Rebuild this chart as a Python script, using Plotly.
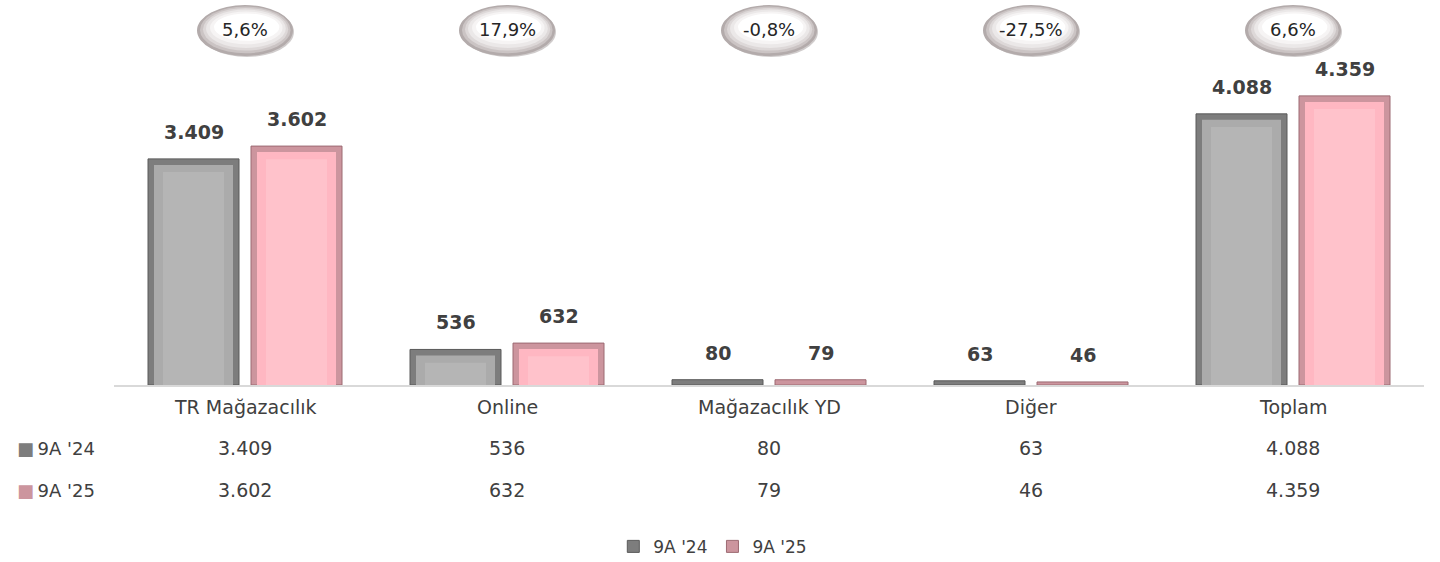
import plotly.graph_objects as go

categories = ["TR Mağazacılık", "Online", "Mağazacılık YD", "Diğer", "Toplam"]
series_names = ["9A '24", "9A '25"]
values_24 = [3409, 536, 80, 63, 4088]
values_25 = [3602, 632, 79, 46, 4359]
growth = ["5,6%", "17,9%", "-0,8%", "-27,5%", "6,6%"]

W, H = 1440, 562
ML, MR, MT, MB = 114, 16, 60, 177
PW, PH = W - ML - MR, H - MT - MB
YMAX = 4900
FONT = "DejaVu Sans"
TXT = "#404040"

def fmt(v):
    return f"{v:,}".replace(",", ".")

x = list(range(len(categories)))
cat_px = PW / len(categories)          # pixels per category
bar_w = 91 / cat_px                     # bar width in category units
half_gap = 6 / cat_px
inset_x = 6 / cat_px
inset_y = 6 * YMAX / PH

edge = {"9A '24": "#7d7d7d", "9A '25": "#cc959e"}
face = {"9A '24": "#ababab", "9A '25": "#ffb7c2"}
hilite = {"9A '24": "#c8c8c8", "9A '25": "#ffd6dc"}

fig = go.Figure()
for name, vals, sign in [(series_names[0], values_24, -1), (series_names[1], values_25, 1)]:
    off = -half_gap - bar_w if sign < 0 else half_gap
    fig.add_trace(go.Bar(
        x=x, y=vals, name=name, width=bar_w, offset=off,
        marker=dict(color=edge[name], line=dict(color="#5a5a5a" if sign < 0 else "#9c6a72", width=1)),
        showlegend=True, hoverinfo="skip",
    ))
    inner = [max(v - inset_y, 0) for v in vals]
    fig.add_trace(go.Bar(
        x=x, y=inner, width=bar_w - 2 * inset_x, offset=off + inset_x,
        marker=dict(color=face[name], line=dict(width=0)),
        showlegend=False, hoverinfo="skip",
    ))
    inner2 = [max(v - 2.2 * inset_y, 0) for v in vals]
    fig.add_trace(go.Bar(
        x=x, y=inner2, width=bar_w - 5 * inset_x, offset=off + 2.5 * inset_x,
        marker=dict(color=hilite[name], line=dict(width=0), opacity=0.35),
        showlegend=False, hoverinfo="skip",
    ))
    for i, v in enumerate(vals):
        fig.add_annotation(
            x=i, y=v, xref="x", yref="y",
            xshift=sign * (half_gap + bar_w / 2) * cat_px, yshift=27,
            text=f"<b>{fmt(v)}</b>", showarrow=False, yanchor="middle",
            font=dict(family=FONT, size=19, color=TXT),
        )

shapes = []
oval_layers = [("#b3abab", 0), ("#cbc4c4", 3), ("#ddd8d8", 6), ("#ebe8e8", 9), ("#f6f4f4", 13), ("#ffffff", 17)]
for i, g in enumerate(growth):
    shapes.append(dict(type="circle", xref="x", yref="paper", xsizemode="pixel", ysizemode="pixel",
                       xanchor=i, yanchor=1, x0=-45, x1=49, y0=3, y1=53,
                       fillcolor="#d0cccc", line=dict(width=0), layer="above"))
    for col, ins in oval_layers:
        shapes.append(dict(type="circle", xref="x", yref="paper", xsizemode="pixel", ysizemode="pixel",
                           xanchor=i, yanchor=1, x0=-48 + ins, x1=48 - ins * 0.8,
                           y0=4 + ins * 0.9, y1=55 - ins * 0.5,
                           fillcolor=col, line=dict(width=0), layer="above"))
    fig.add_annotation(x=i, y=1, xref="x", yref="paper", yshift=31, text=g, showarrow=False,
                       yanchor="middle", font=dict(family=FONT, size=18, color="#262626"))

def py(p):
    return (H - MB - p) / PH

for i, c in enumerate(categories):
    fig.add_annotation(x=i, y=py(407), xref="x", yref="paper", text=c, showarrow=False,
                       yanchor="middle", font=dict(family=FONT, size=19, color=TXT))
    fig.add_annotation(x=i, y=py(448), xref="x", yref="paper", text=fmt(values_24[i]), showarrow=False,
                       yanchor="middle", font=dict(family=FONT, size=19, color=TXT))
    fig.add_annotation(x=i, y=py(490), xref="x", yref="paper", text=fmt(values_25[i]), showarrow=False,
                       yanchor="middle", font=dict(family=FONT, size=19, color=TXT))

for name, ypix in [(series_names[0], 448), (series_names[1], 490)]:
    fig.add_annotation(x=(15 - ML) / PW, y=py(ypix), xref="paper", yref="paper", xanchor="left",
                       text=f"<span style='color:{edge[name]}'>■</span>\u2009{name}", showarrow=False,
                       yanchor="middle", font=dict(family=FONT, size=18, color=TXT))

fig.update_layout(
    width=W, height=H,
    margin=dict(l=ML, r=MR, t=MT, b=MB, autoexpand=False),
    paper_bgcolor="white", plot_bgcolor="white",
    barmode="overlay",
    shapes=shapes,
    xaxis=dict(range=[-0.5, len(categories) - 0.5], showticklabels=False, showgrid=False,
               zeroline=False, showline=True, linecolor="#d9d9d9", linewidth=1.5, ticks=""),
    yaxis=dict(range=[0, YMAX], visible=False),
    legend=dict(orientation="h", xref="container", yref="container", x=0.495, y=0.027,
                xanchor="center", yanchor="middle", font=dict(family=FONT, size=17, color=TXT),
                itemwidth=30, traceorder="normal", tracegroupgap=0),
    showlegend=True,
)

fig.write_html("out.html", config={"displayModeBar": False},
               post_script="document.body.style.margin='0';")
